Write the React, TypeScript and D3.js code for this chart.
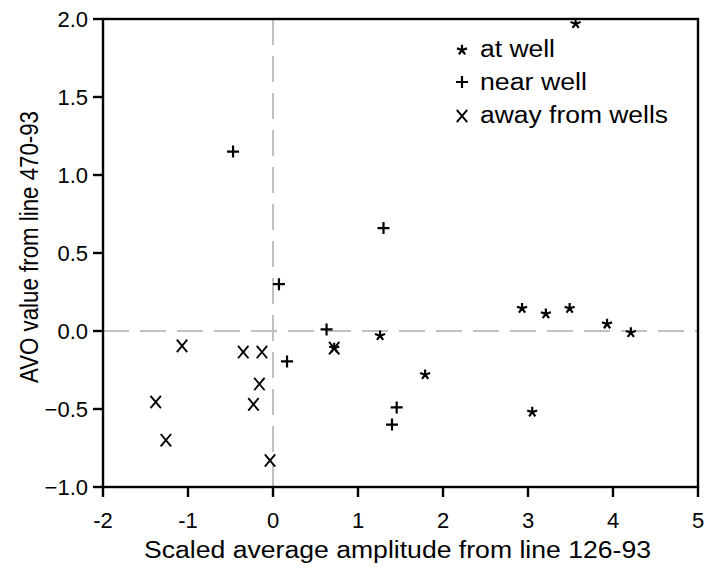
import React from "react";
import * as d3 from "d3";

const atWellX = [3.56, 1.26, 1.79, 2.93, 3.21, 3.49, 3.93, 4.21, 3.05, 0.72];
const atWellY = [1.97, -0.03, -0.28, 0.145, 0.11, 0.145, 0.045, -0.01, -0.52, -0.11];
const nearWellX = [-0.47, 1.3, 0.07, 0.63, 0.165, 1.455, 1.4];
const nearWellY = [1.15, 0.66, 0.3, 0.01, -0.195, -0.49, -0.6];
const awayX = [-1.07, -0.35, -0.13, -0.16, -0.23, -1.38, -1.26, -0.035, 0.72];
const awayY = [-0.095, -0.135, -0.135, -0.34, -0.47, -0.455, -0.7, -0.83, -0.11];
const xTicks = [-2, -1, 0, 1, 2, 3, 4, 5];
const yTicks = [-1, -0.5, 0, 0.5, 1, 1.5, 2];
const legendLabels = ["at well", "near well", "away from wells"];

const W = 712, H = 569;
const L = 103, R = 698, T = 19, B = 487;
const FONT = "'Liberation Sans', Arial, Helvetica, sans-serif";

function Plus({ x, y }: { x: number; y: number }) {
  const s = 6;
  return <path d={`M${x - s},${y}H${x + s}M${x},${y - s}V${y + s}`} stroke="#000" strokeWidth={2.2} fill="none" />;
}
function Cross({ x, y }: { x: number; y: number }) {
  const sx = 5.2, sy = 6.2;
  return <path d={`M${x - sx},${y - sy}L${x + sx},${y + sy}M${x + sx},${y - sy}L${x - sx},${y + sy}`} stroke="#000" strokeWidth={1.9} fill="none" />;
}
function Star({ x, y }: { x: number; y: number }) {
  const r = 5.3;
  let d = "";
  for (let i = 0; i < 5; i++) {
    const a = -Math.PI / 2 + (i * 2 * Math.PI) / 5;
    d += `M${x},${y}L${x + r * Math.cos(a)},${y + r * Math.sin(a)}`;
  }
  return <path d={d} stroke="#000" strokeWidth={2.2} fill="none" strokeLinecap="butt" />;
}

export default function App() {
  const x = d3.scaleLinear().domain([-2, 5]).range([L, R]);
  const y = d3.scaleLinear().domain([-1, 2]).range([B, T]);
  const fmt = d3.format(".1f");
  const legendX = 462;
  const legendY = [57, 90, 123];
  const legendLen = [75, 107, 188];
  return (
    <svg width={W} height={H} style={{ position: "absolute", left: 0, top: 0 }} fontFamily={FONT}>
      <rect width={W} height={H} fill="#fff" />
      {/* zero lines */}
      <line x1={x(0)} x2={x(0)} y1={T} y2={B} stroke="#c0c0c0" strokeWidth={2} strokeDasharray="26,11" />
      <line x1={L} x2={R} y1={y(0)} y2={y(0)} stroke="#c0c0c0" strokeWidth={2} strokeDasharray="26,11" />
      {/* markers */}
      {awayX.map((v, i) => <Cross key={"a" + i} x={x(v)} y={y(awayY[i])} />)}
      {nearWellX.map((v, i) => <Plus key={"n" + i} x={x(v)} y={y(nearWellY[i])} />)}
      {atWellX.map((v, i) => <Star key={"w" + i} x={x(v)} y={y(atWellY[i])} />)}
      {/* frame */}
      <rect x={L} y={T} width={R - L} height={B - T} fill="none" stroke="#000" strokeWidth={2.4} />
      {/* x ticks */}
      {xTicks.map((t) => (
        <g key={"xt" + t}>
          <line x1={x(t)} x2={x(t)} y1={B} y2={B + 10} stroke="#000" strokeWidth={2.4} />
          <text x={x(t)} y={B + 41} fontSize={22} textAnchor="middle">{t}</text>
        </g>
      ))}
      {yTicks.map((t) => (
        <g key={"yt" + t}>
          <line x1={L - 10} x2={L} y1={y(t)} y2={y(t)} stroke="#000" strokeWidth={2.4} />
          <text x={L - 15} y={y(t) + 7.5} fontSize={22} textAnchor="end">{fmt(t)}</text>
        </g>
      ))}
      <text x={144} y={558} fontSize={23} textLength={507} lengthAdjust="spacingAndGlyphs">Scaled average amplitude from line 126-93</text>
      <text transform={`translate(38,383) rotate(-90)`} fontSize={25} textLength={272} lengthAdjust="spacingAndGlyphs">AVO value from line 470-93</text>
      {/* legend */}
      <Star x={legendX} y={legendY[0] - 7} />
      <Plus x={legendX} y={legendY[1] - 8} />
      <Cross x={legendX} y={legendY[2] - 7} />
      {legendLabels.map((lab, i) => (
        <text key={lab} x={480} y={legendY[i]} fontSize={23} textLength={legendLen[i]} lengthAdjust="spacingAndGlyphs">{lab}</text>
      ))}
    </svg>
  );
}
